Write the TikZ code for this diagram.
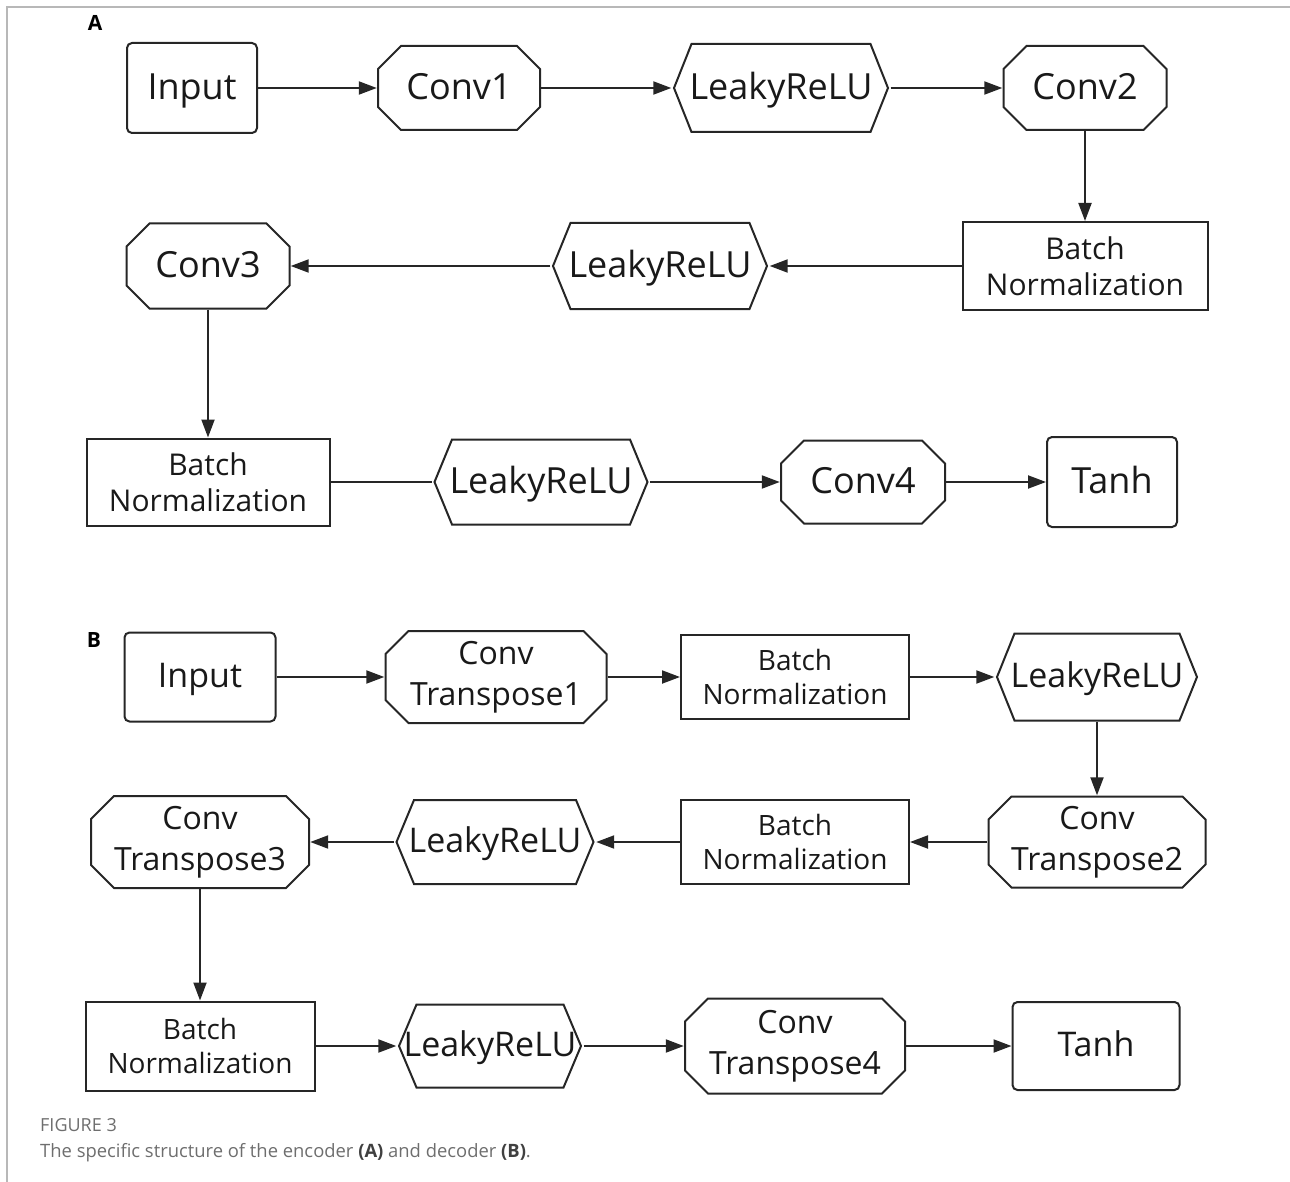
\documentclass[tikz,border=0pt]{standalone}
\usepackage{fontspec}
\setmainfont{Open Sans}
\usetikzlibrary{arrows.meta}
\definecolor{edge}{HTML}{262626}
\definecolor{capgray}{HTML}{6E6E6E}
\tikzset{
  every node/.style={inner sep=0pt,text=black!90},
  link/.style={line width=2pt,draw=edge,-{Triangle[length=18pt,width=13pt]}},
  plain/.style={line width=2pt,draw=edge},
  roundbox/.style={draw=edge,line width=2pt,rounded corners=5pt},
  normbox/.style={draw=edge,line width=2pt,align=center},
  octbox/.style={fill=white,align=center,path picture={
    \draw[line width=2pt,draw=edge]
      ([shift={(24pt,-1pt)}]path picture bounding box.north west) --
      ([shift={(-24pt,-1pt)}]path picture bounding box.north east) --
      ([shift={(-1pt,-24pt)}]path picture bounding box.north east) --
      ([shift={(-1pt,24pt)}]path picture bounding box.south east) --
      ([shift={(-24pt,1pt)}]path picture bounding box.south east) --
      ([shift={(24pt,1pt)}]path picture bounding box.south west) --
      ([shift={(1pt,24pt)}]path picture bounding box.south west) --
      ([shift={(1pt,-24pt)}]path picture bounding box.north west) -- cycle;}},
  hexbox/.style={fill=white,path picture={
    \draw[line width=2pt,draw=edge]
      ([shift={(20pt,-1pt)}]path picture bounding box.north west) --
      ([shift={(-20pt,-1pt)}]path picture bounding box.north east) --
      ([shift={(-2.5pt,0pt)}]path picture bounding box.east) --
      ([shift={(-20pt,1pt)}]path picture bounding box.south east) --
      ([shift={(20pt,1pt)}]path picture bounding box.south west) --
      ([shift={(2.5pt,0pt)}]path picture bounding box.west) -- cycle;}},
  atxt/.style={font=\fontsize{36}{42}\selectfont,text height=31pt,text depth=8pt},
  anorm/.style={font=\fontsize{30}{36}\selectfont},
  btxt/.style={font=\fontsize{34}{40}\selectfont,text height=29pt,text depth=7.5pt},
  bconv/.style={font=\fontsize{32}{41}\selectfont},
  bnorm/.style={font=\fontsize{28}{34}\selectfont},
  panel/.style={font=\fontsize{21}{24}\selectfont\bfseries,text=black},
}
\begin{document}
\begin{tikzpicture}[x=1pt,y=-1pt]
\useasboundingbox (0,0) rectangle (1290,1182);
\draw[line width=1.5pt,black!28] (7,1182) -- (7,7) -- (1290,7);

%A encoder
\node[panel] (alabel) at (95,23) {A};
\node[roundbox,atxt,minimum width=130pt,minimum height=90pt] (ainput) at (192,88) {Input};
\node[octbox,atxt,minimum width=164pt,minimum height=86pt] (aconv1) at (459,88) {Conv1};
\node[hexbox,atxt,minimum width=219pt,minimum height=90pt] (alrelu1) at (781,88) {LeakyReLU};
\node[octbox,atxt,minimum width=165pt,minimum height=86pt] (aconv2) at (1085,88) {Conv2};

\node[normbox,anorm,minimum width=245pt,minimum height=88pt] (abn1) at (1085,266) {Batch\\Normalization};
\node[hexbox,atxt,minimum width=219pt,minimum height=88pt] (alrelu2) at (660,266) {LeakyReLU};
\node[octbox,atxt,minimum width=165pt,minimum height=87pt] (aconv3) at (208,266) {Conv3};

\node[normbox,anorm,minimum width=243pt,minimum height=87pt] (abn2) at (208,482) {Batch\\Normalization};
\node[hexbox,atxt,minimum width=218pt,minimum height=87pt] (alrelu3) at (541,482) {LeakyReLU};
\node[octbox,atxt,minimum width=166pt,minimum height=85pt] (aconv4) at (863,482) {Conv4};
\node[roundbox,atxt,minimum width=130pt,minimum height=90pt] (atanh) at (1112,482) {Tanh};

\draw[link] (ainput) -- (aconv1);
\draw[link] (aconv1) -- (alrelu1);
\draw[link] (alrelu1) -- (aconv2);
\draw[link] (aconv2) -- (abn1);
\draw[link] (abn1) -- (alrelu2);
\draw[link] (alrelu2) -- (aconv3);
\draw[link] (aconv3) -- (abn2);
\draw[plain] (abn2) -- (alrelu3);
\draw[link] (alrelu3) -- (aconv4);
\draw[link] (aconv4) -- (atanh);

%B decoder
\node[panel] (blabel) at (94,640) {B};
\node[roundbox,btxt,minimum width=151pt,minimum height=89pt] (binput) at (200,677) {Input};
\node[octbox,bconv,minimum width=223pt,minimum height=94pt] (bct1) at (496,677) {Conv\\Transpose1};
\node[normbox,bnorm,minimum width=228pt,minimum height=84pt] (bbn1) at (795,677) {Batch\\Normalization};
\node[hexbox,btxt,minimum width=205pt,minimum height=89pt] (blrelu1) at (1097,677) {LeakyReLU};

\node[octbox,bconv,minimum width=219pt,minimum height=93pt] (bct2) at (1097,842) {Conv\\Transpose2};
\node[normbox,bnorm,minimum width=228pt,minimum height=84pt] (bbn2) at (795,842) {Batch\\Normalization};
\node[hexbox,btxt,minimum width=202pt,minimum height=86pt] (blrelu2) at (495,842) {LeakyReLU};
\node[octbox,bconv,minimum width=220pt,minimum height=94pt] (bct3) at (200,842) {Conv\\Transpose3};

\node[normbox,bnorm,minimum width=229pt,minimum height=89pt] (bbn3) at (200,1046) {Batch\\Normalization};
\node[hexbox,btxt,minimum width=187pt,minimum height=85pt] (blrelu3) at (490,1046) {LeakyReLU};
\node[octbox,bconv,minimum width=222pt,minimum height=97pt] (bct4) at (795,1046) {Conv\\Transpose4};
\node[roundbox,btxt,minimum width=167pt,minimum height=88pt] (btanh) at (1096,1046) {Tanh};

\draw[link] (binput) -- (bct1);
\draw[link] (bct1) -- (bbn1);
\draw[link] (bbn1) -- (blrelu1);
\draw[link] (blrelu1) -- (bct2);
\draw[link] (bct2) -- (bbn2);
\draw[link] (bbn2) -- (blrelu2);
\draw[link] (blrelu2) -- (bct3);
\draw[link] (bct3) -- (bbn3);
\draw[link] (bbn3) -- (blrelu3);
\draw[link] (blrelu3) -- (bct4);
\draw[link] (bct4) -- (btanh);

%caption
\node[anchor=base west,font=\fontsize{18}{22}\selectfont,text=capgray] (figno) at (40,1131) {FIGURE 3};
\node[anchor=base west,font=\fontsize{18.4}{22}\selectfont,text=capgray] (figcap) at (40,1157)
  {The specific structure of the encoder \textcolor{black!75}{\bfseries(A)} and decoder \textcolor{black!75}{\bfseries(B)}.};
\end{tikzpicture}
\end{document}
